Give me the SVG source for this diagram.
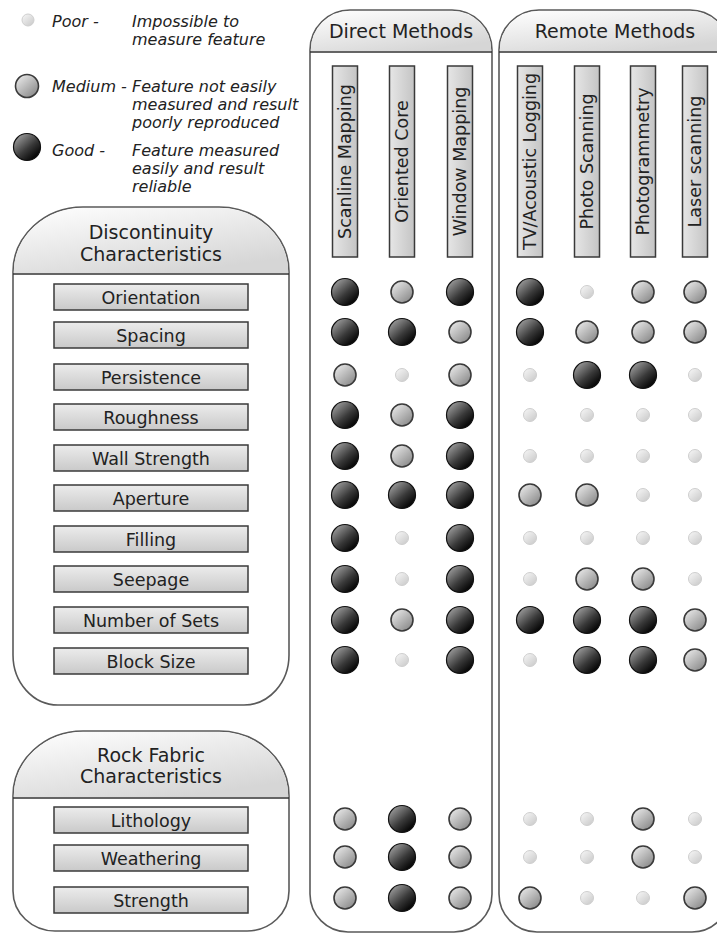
<svg xmlns="http://www.w3.org/2000/svg" xmlns:xlink="http://www.w3.org/1999/xlink" width="717" height="933" viewBox="0 0 717 933">
  <defs>
    <linearGradient id="gGood" x1="0.15" y1="0.1" x2="0.85" y2="0.9">
      <stop offset="0" stop-color="#9a9a9a"/>
      <stop offset="0.55" stop-color="#3a3a3a"/>
      <stop offset="1" stop-color="#000"/>
    </linearGradient>
    <linearGradient id="gMed" x1="0.15" y1="0.1" x2="0.85" y2="0.9">
      <stop offset="0" stop-color="#e4e4e4"/>
      <stop offset="1" stop-color="#8c8c8c"/>
    </linearGradient>
    <linearGradient id="gPoor" x1="0.15" y1="0.1" x2="0.85" y2="0.9">
      <stop offset="0" stop-color="#f2f2f2"/>
      <stop offset="1" stop-color="#cdcdcd"/>
    </linearGradient>
    <linearGradient id="gBox" x1="0" y1="0" x2="0" y2="1">
      <stop offset="0" stop-color="#ececec"/>
      <stop offset="1" stop-color="#c9c9c9"/>
    </linearGradient>
    <linearGradient id="gVBox" x1="0" y1="0" x2="1" y2="0">
      <stop offset="0" stop-color="#e6e6e6"/>
      <stop offset="1" stop-color="#c4c4c4"/>
    </linearGradient>
    <linearGradient id="gHead" x1="0" y1="0" x2="0.6" y2="1">
      <stop offset="0" stop-color="#ffffff"/>
      <stop offset="1" stop-color="#d6d6d6"/>
    </linearGradient>
  </defs>
  <style>
    text { font-family: "DejaVu Sans", "Liberation Sans", sans-serif; fill: #222; }
    .panel { fill: #fff; stroke: #5a5a5a; stroke-width: 1.6; }
    .head { fill: url(#gHead); stroke: none; }
    .rule { stroke: #333; stroke-width: 1.6; }
    .title { font-size: 19px; text-anchor: middle; }
    .item rect { fill: url(#gBox); stroke: #3a3a3a; stroke-width: 1.5; }
    .item text { font-size: 17.5px; text-anchor: middle; }
    .vbox rect { fill: url(#gVBox); stroke: #3a3a3a; stroke-width: 1.5; }
    .vbox text { font-size: 17.5px; text-anchor: middle; dominant-baseline: central; }
    .leg { font-size: 16px; font-style: italic; }
    .G { fill: url(#gGood); stroke: #111; stroke-width: 1.2; }
    .M { fill: url(#gMed); stroke: #3a3a3a; stroke-width: 1.6; }
    .P { fill: url(#gPoor); stroke: #cfcfcf; stroke-width: 1; }
  </style>

  <rect width="717" height="933" fill="#fff"/>

  <!-- legend -->
  <g id="legend">
    <circle class="P" cx="28" cy="20" r="6"/>
    <text class="leg" x="52" y="27">Poor -</text>
    <text class="leg" x="132" y="27">Impossible to</text>
    <text class="leg" x="132" y="45">measure feature</text>

    <circle class="M" cx="27" cy="86" r="11.5"/>
    <text class="leg" x="52" y="92">Medium -</text>
    <text class="leg" x="132" y="92">Feature not easily</text>
    <text class="leg" x="132" y="110">measured and result</text>
    <text class="leg" x="132" y="128">poorly reproduced</text>

    <circle class="G" cx="27" cy="147" r="13.5"/>
    <text class="leg" x="52" y="156">Good -</text>
    <text class="leg" x="132" y="156">Feature measured</text>
    <text class="leg" x="132" y="174">easily and result</text>
    <text class="leg" x="132" y="192">reliable</text>
  </g>

  <!-- left: Discontinuity Characteristics -->
  <g id="discontinuity">
    <path class="panel" d="M13,274 V272 A70,65 0 0 1 83,207 H219 A70,65 0 0 1 289,272 V655 A45,50 0 0 1 244,705 H58 A45,50 0 0 1 13,655 Z"/>
    <path class="head" d="M13.8,273.2 V272 A69,64 0 0 1 83,208 H219 A69,64 0 0 1 288.2,272 V273.2 Z"/>
    <line class="rule" x1="13" y1="274" x2="289" y2="274"/>
    <text class="title" x="151" y="239">Discontinuity</text>
    <text class="title" x="151" y="261">Characteristics</text>
  </g>
  <g id="item-orientation" class="item"><rect x="54" y="284" width="194" height="26"/><text x="151" y="303.5">Orientation</text></g>
  <g id="item-spacing" class="item"><rect x="54" y="322" width="194" height="26"/><text x="151" y="341.5">Spacing</text></g>
  <g id="item-persistence" class="item"><rect x="54" y="364" width="194" height="26"/><text x="151" y="383.5">Persistence</text></g>
  <g id="item-roughness" class="item"><rect x="54" y="404" width="194" height="26"/><text x="151" y="423.5">Roughness</text></g>
  <g id="item-wall-strength" class="item"><rect x="54" y="445" width="194" height="26"/><text x="151" y="464.5">Wall Strength</text></g>
  <g id="item-aperture" class="item"><rect x="54" y="485" width="194" height="26"/><text x="151" y="504.5">Aperture</text></g>
  <g id="item-filling" class="item"><rect x="54" y="526" width="194" height="26"/><text x="151" y="545.5">Filling</text></g>
  <g id="item-seepage" class="item"><rect x="54" y="566" width="194" height="26"/><text x="151" y="585.5">Seepage</text></g>
  <g id="item-number-of-sets" class="item"><rect x="54" y="607" width="194" height="26"/><text x="151" y="626.5">Number of Sets</text></g>
  <g id="item-block-size" class="item"><rect x="54" y="648" width="194" height="26"/><text x="151" y="667.5">Block Size</text></g>

  <!-- left: Rock Fabric Characteristics -->
  <g id="rock-fabric">
    <path class="panel" d="M13,798 V796 A70,65 0 0 1 83,731 H219 A70,65 0 0 1 289,796 V891 A42,40 0 0 1 247,931 H55 A42,40 0 0 1 13,891 Z"/>
    <path class="head" d="M13.8,797.2 V796 A69,64 0 0 1 83,732 H219 A69,64 0 0 1 288.2,796 V797.2 Z"/>
    <line class="rule" x1="13" y1="798" x2="289" y2="798"/>
    <text class="title" x="151" y="762">Rock Fabric</text>
    <text class="title" x="151" y="783">Characteristics</text>
  </g>
  <g id="item-lithology" class="item"><rect x="54" y="807" width="194" height="26"/><text x="151" y="826.5">Lithology</text></g>
  <g id="item-weathering" class="item"><rect x="54" y="845" width="194" height="26"/><text x="151" y="864.5">Weathering</text></g>
  <g id="item-strength" class="item"><rect x="54" y="887" width="194" height="26"/><text x="151" y="906.5">Strength</text></g>

  <!-- right: Direct Methods -->
  <g id="direct-methods">
    <path class="panel" d="M310,52 V50 A40,40 0 0 1 350,10 H452 A40,40 0 0 1 492,50 V894 A38,38 0 0 1 454,932 H348 A38,38 0 0 1 310,894 Z"/>
    <path class="head" d="M310.8,51.2 V50 A39,39 0 0 1 350,11 H452 A39,39 0 0 1 491.2,50 V51.2 Z"/>
    <line class="rule" x1="310" y1="52" x2="492" y2="52"/>
    <text class="title" x="401" y="38">Direct Methods</text>
  </g>
  <g id="m-scanline" class="vbox"><rect x="332.5" y="66" width="25" height="191"/><text transform="translate(345,161.5) rotate(-90)">Scanline Mapping</text></g>
  <g id="m-oriented-core" class="vbox"><rect x="389.5" y="66" width="25" height="191"/><text transform="translate(402,161.5) rotate(-90)">Oriented Core</text></g>
  <g id="m-window" class="vbox"><rect x="447.5" y="66" width="25" height="191"/><text transform="translate(460,161.5) rotate(-90)">Window Mapping</text></g>

  <!-- right: Remote Methods -->
  <g id="remote-methods">
    <path class="panel" d="M499,52 V50 A40,40 0 0 1 539,10 H690 A40,40 0 0 1 730,50 V894 A38,38 0 0 1 692,932 H537 A38,38 0 0 1 499,894 Z"/>
    <path class="head" d="M499.8,51.2 V50 A39,39 0 0 1 539,11 H690 A39,39 0 0 1 729.2,50 V51.2 Z"/>
    <line class="rule" x1="499" y1="52" x2="730" y2="52"/>
    <text class="title" x="615" y="38">Remote Methods</text>
  </g>
  <g id="m-tv-acoustic" class="vbox"><rect x="517.5" y="66" width="25" height="191"/><text transform="translate(530,161.5) rotate(-90)">TV/Acoustic Logging</text></g>
  <g id="m-photo-scanning" class="vbox"><rect x="574.5" y="66" width="25" height="191"/><text transform="translate(587,161.5) rotate(-90)">Photo Scanning</text></g>
  <g id="m-photogrammetry" class="vbox"><rect x="630.5" y="66" width="25" height="191"/><text transform="translate(643,161.5) rotate(-90)">Photogrammetry</text></g>
  <g id="m-laser" class="vbox"><rect x="682.5" y="66" width="25" height="191"/><text transform="translate(695,161.5) rotate(-90)">Laser scanning</text></g>

  <!-- rating marks: columns 345 402 460 | 530 587 643 695 -->
  <g id="ratings">
    <!-- Orientation -->
    <circle class="G" cx="345" cy="292" r="13.5"/><circle class="M" cx="402" cy="292" r="11"/><circle class="G" cx="460" cy="292" r="13.5"/>
    <circle class="G" cx="530" cy="292" r="13.5"/><circle class="P" cx="587" cy="292" r="6.5"/><circle class="M" cx="643" cy="292" r="11"/><circle class="M" cx="695" cy="292" r="11"/>
    <!-- Spacing -->
    <circle class="G" cx="345" cy="332" r="13.5"/><circle class="G" cx="402" cy="332" r="13.5"/><circle class="M" cx="460" cy="332" r="11"/>
    <circle class="G" cx="530" cy="332" r="13.5"/><circle class="M" cx="587" cy="332" r="11"/><circle class="M" cx="643" cy="332" r="11"/><circle class="M" cx="695" cy="332" r="11"/>
    <!-- Persistence -->
    <circle class="M" cx="345" cy="375" r="11"/><circle class="P" cx="402" cy="375" r="6.5"/><circle class="M" cx="460" cy="375" r="11"/>
    <circle class="P" cx="530" cy="375" r="6.5"/><circle class="G" cx="587" cy="375" r="13.5"/><circle class="G" cx="643" cy="375" r="13.5"/><circle class="P" cx="695" cy="375" r="6.5"/>
    <!-- Roughness -->
    <circle class="G" cx="345" cy="415" r="13.5"/><circle class="M" cx="402" cy="415" r="11"/><circle class="G" cx="460" cy="415" r="13.5"/>
    <circle class="P" cx="530" cy="415" r="6.5"/><circle class="P" cx="587" cy="415" r="6.5"/><circle class="P" cx="643" cy="415" r="6.5"/><circle class="P" cx="695" cy="415" r="6.5"/>
    <!-- Wall Strength -->
    <circle class="G" cx="345" cy="456" r="13.5"/><circle class="M" cx="402" cy="456" r="11"/><circle class="G" cx="460" cy="456" r="13.5"/>
    <circle class="P" cx="530" cy="456" r="6.5"/><circle class="P" cx="587" cy="456" r="6.5"/><circle class="P" cx="643" cy="456" r="6.5"/><circle class="P" cx="695" cy="456" r="6.5"/>
    <!-- Aperture -->
    <circle class="G" cx="345" cy="495" r="13.5"/><circle class="G" cx="402" cy="495" r="13.5"/><circle class="G" cx="460" cy="495" r="13.5"/>
    <circle class="M" cx="530" cy="495" r="11"/><circle class="M" cx="587" cy="495" r="11"/><circle class="P" cx="643" cy="495" r="6.5"/><circle class="P" cx="695" cy="495" r="6.5"/>
    <!-- Filling -->
    <circle class="G" cx="345" cy="538" r="13.5"/><circle class="P" cx="402" cy="538" r="6.5"/><circle class="G" cx="460" cy="538" r="13.5"/>
    <circle class="P" cx="530" cy="538" r="6.5"/><circle class="P" cx="587" cy="538" r="6.5"/><circle class="P" cx="643" cy="538" r="6.5"/><circle class="P" cx="695" cy="538" r="6.5"/>
    <!-- Seepage -->
    <circle class="G" cx="345" cy="579" r="13.5"/><circle class="P" cx="402" cy="579" r="6.5"/><circle class="G" cx="460" cy="579" r="13.5"/>
    <circle class="P" cx="530" cy="579" r="6.5"/><circle class="M" cx="587" cy="579" r="11"/><circle class="M" cx="643" cy="579" r="11"/><circle class="P" cx="695" cy="579" r="6.5"/>
    <!-- Number of Sets -->
    <circle class="G" cx="345" cy="620" r="13.5"/><circle class="M" cx="402" cy="620" r="11"/><circle class="G" cx="460" cy="620" r="13.5"/>
    <circle class="G" cx="530" cy="620" r="13.5"/><circle class="G" cx="587" cy="620" r="13.5"/><circle class="G" cx="643" cy="620" r="13.5"/><circle class="M" cx="695" cy="620" r="11"/>
    <!-- Block Size -->
    <circle class="G" cx="345" cy="660" r="13.5"/><circle class="P" cx="402" cy="660" r="6.5"/><circle class="G" cx="460" cy="660" r="13.5"/>
    <circle class="P" cx="530" cy="660" r="6.5"/><circle class="G" cx="587" cy="660" r="13.5"/><circle class="G" cx="643" cy="660" r="13.5"/><circle class="M" cx="695" cy="660" r="11"/>
    <!-- Lithology -->
    <circle class="M" cx="345" cy="819" r="11"/><circle class="G" cx="402" cy="819" r="13.5"/><circle class="M" cx="460" cy="819" r="11"/>
    <circle class="P" cx="530" cy="819" r="6.5"/><circle class="P" cx="587" cy="819" r="6.5"/><circle class="M" cx="643" cy="819" r="11"/><circle class="P" cx="695" cy="819" r="6.5"/>
    <!-- Weathering -->
    <circle class="M" cx="345" cy="857" r="11"/><circle class="G" cx="402" cy="857" r="13.5"/><circle class="M" cx="460" cy="857" r="11"/>
    <circle class="P" cx="530" cy="857" r="6.5"/><circle class="P" cx="587" cy="857" r="6.5"/><circle class="M" cx="643" cy="857" r="11"/><circle class="P" cx="695" cy="857" r="6.5"/>
    <!-- Strength -->
    <circle class="M" cx="345" cy="898" r="11"/><circle class="G" cx="402" cy="898" r="13.5"/><circle class="M" cx="460" cy="898" r="11"/>
    <circle class="M" cx="530" cy="898" r="11"/><circle class="P" cx="587" cy="898" r="6.5"/><circle class="P" cx="643" cy="898" r="6.5"/><circle class="M" cx="695" cy="898" r="11"/>
  </g>
</svg>
